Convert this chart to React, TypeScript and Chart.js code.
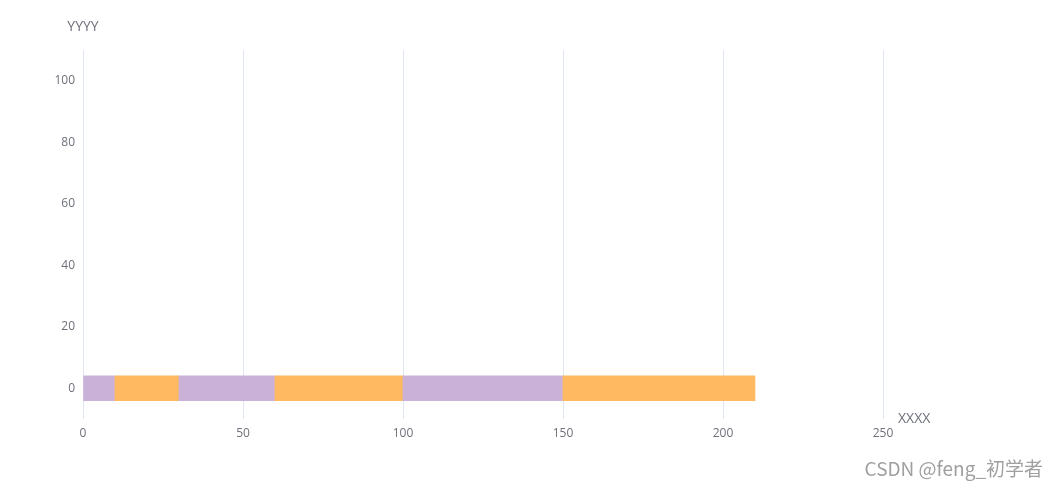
import React, { useEffect, useRef } from "react";
import { Chart, registerables } from "chart.js";

Chart.register(...registerables);

const segmentStarts = [0, 10, 30, 60, 100, 150];
const segmentEnds = [10, 30, 60, 100, 150, 210];
const segmentRow = [0, 0, 0, 0, 0, 0];
const segmentColors = ["#c9b1d8", "#ffb961", "#c9b1d8", "#ffb961", "#c9b1d8", "#ffb961"];
const xTickValues = [0, 50, 100, 150, 200, 250];
const yTickValues = [0, 20, 40, 60, 80, 100];
const xAxisName = "XXXX";
const yAxisName = "YYYY";
const watermark = "CSDN @feng_初学者";

const W = 1059;
const H = 488;

export default function App() {
  const ref = useRef<HTMLCanvasElement | null>(null);
  useEffect(() => {
    document.body.style.margin = "0";
    const canvas = ref.current;
    if (!canvas) return;
    const textColor = "#6e7079";
    const namesPlugin = {
      id: "names",
      afterDraw(chart: any) {
        const ctx = chart.ctx;
        const area = chart.chartArea;
        ctx.save();
        ctx.fillStyle = textColor;
        ctx.font = "14px 'Open Sans', sans-serif";
        ctx.textAlign = "center";
        ctx.textBaseline = "middle";
        ctx.fillText(yAxisName, area.left, area.top - 23);
        ctx.textAlign = "left";
        ctx.fillText(xAxisName, area.right + 15, area.bottom);
        ctx.font = "19px 'Noto Sans CJK SC', sans-serif";
        ctx.fillStyle = "#a0a0a0";
        ctx.textAlign = "right";
        ctx.textBaseline = "alphabetic";
        ctx.fillText(watermark, 1043, 476);
        ctx.restore();
      },
    };
    const chart = new Chart(canvas, {
      type: "bar",
      data: {
        datasets: [
          {
            data: segmentStarts.map((s, i) => ({ x: [s, segmentEnds[i]], y: segmentRow[i] })) as any,
            backgroundColor: segmentColors,
            borderWidth: 0,
            barThickness: 25,
            grouped: false,
          } as any,
        ],
      },
      options: {
        indexAxis: "y",
        animation: false,
        responsive: false,
        maintainAspectRatio: false,
        layout: { padding: { left: 0, right: 176, top: 50, bottom: 0 } },
        plugins: { legend: { display: false }, tooltip: { enabled: false } },
        scales: {
          x: {
            type: "linear",
            min: 0,
            max: 250,
            offset: false,
            afterBuildTicks: (scale: any) => {
              scale.ticks = xTickValues.map((v) => ({ value: v }));
            },
            afterFit: (scale: any) => {
              scale.height = 69;
            },
            grid: { color: "#e0e6f1", drawTicks: false, offset: false },
            border: { display: false },
            ticks: {
              color: textColor,
              font: { size: 12, family: "'Open Sans', sans-serif" },
              padding: 7,
              maxRotation: 0,
            },
          },
          y: {
            type: "linear",
            min: -10,
            max: 110,
            offset: false,
            afterBuildTicks: (scale: any) => {
              scale.ticks = yTickValues.map((v) => ({ value: v }));
            },
            afterFit: (scale: any) => {
              scale.width = 83;
            },
            grid: { display: false, drawTicks: false, offset: false },
            border: { display: false },
            ticks: {
              color: textColor,
              font: { size: 12, family: "'Open Sans', sans-serif" },
              padding: 8,
            },
          },
        },
      } as any,
      plugins: [namesPlugin],
    });
    return () => chart.destroy();
  }, []);
  return <canvas ref={ref} width={W} height={H} style={{ display: "block" }} />;
}
